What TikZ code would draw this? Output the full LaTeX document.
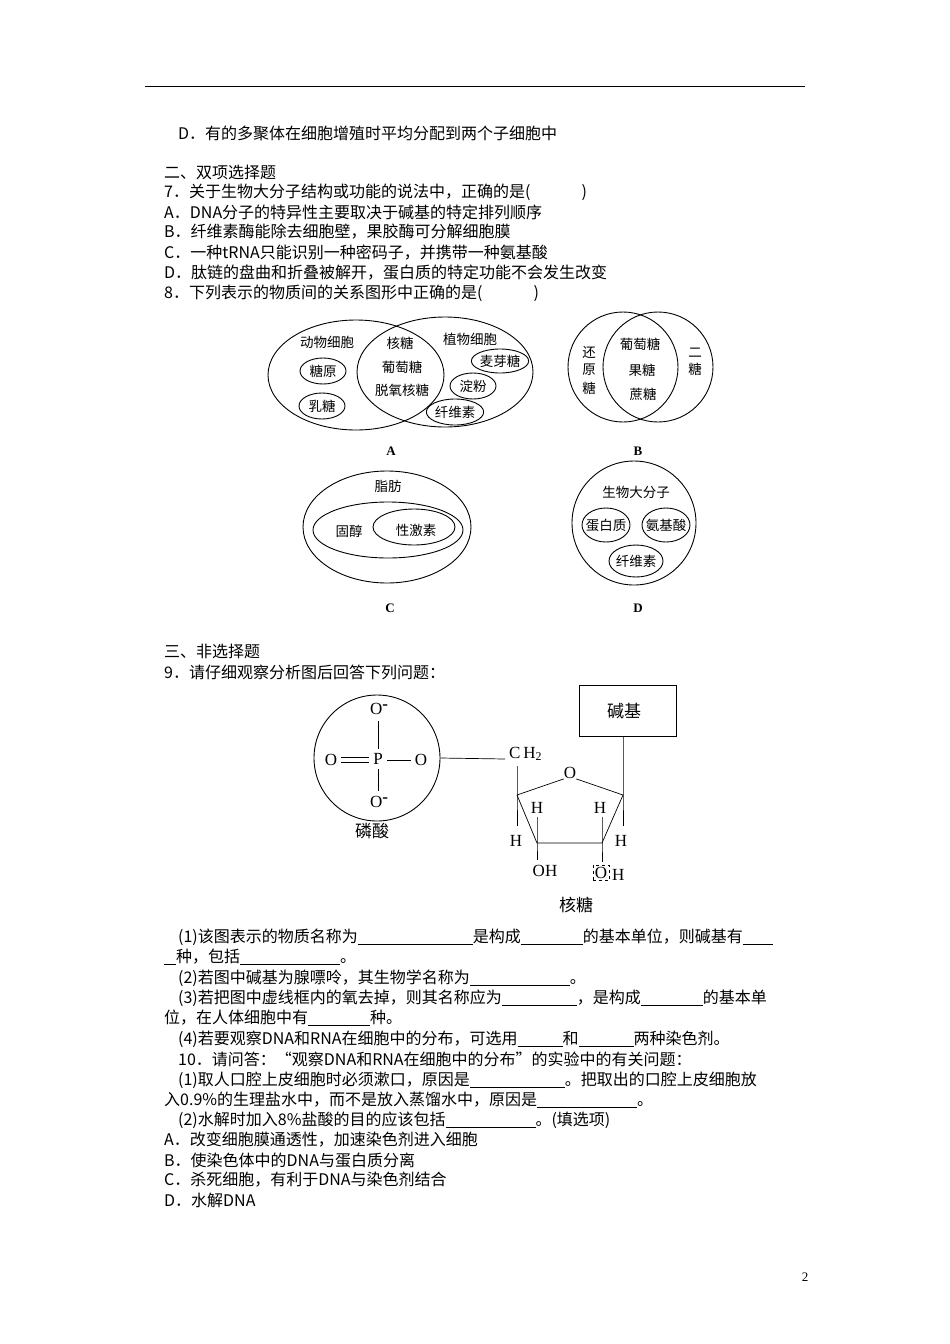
\documentclass[tikz,border=0pt]{standalone}
\usepackage{fontspec}
\usetikzlibrary{shapes.geometric}
\setmainfont{Liberation Serif}
\newfontfamily\cjk{Noto Sans CJK SC}
\newcommand\bl[1]{\rule[-2pt]{#1pt}{0.5pt}}
\begin{document}
\begin{tikzpicture}[x=1pt,y=-1pt,
  txt/.style={anchor=west,inner sep=0pt,font=\cjk\fontsize{16}{18}\selectfont},
  lab/.style={inner sep=0pt,font=\cjk\fontsize{13.5}{15}\selectfont},
  caplbl/.style={inner sep=0pt,font=\bfseries\fontsize{13}{15}\selectfont},
  atom/.style={inner sep=0pt,font=\fontsize{17}{19}\selectfont},
  ln/.style={line width=0.9pt},
  bnd/.style={line width=0.7pt}]
\useasboundingbox[fill=white] (0,0) rectangle (950,1344);
\draw[line width=0.8pt] (145,86) -- (805,86);
\node[txt] (t0) at (178,133) {D．有的多聚体在细胞增殖时平均分配到两个子细胞中};
\node[txt] (t1) at (164,172) {二、双项选择题};
\node[txt] (t2) at (164,192) {7．关于生物大分子结构或功能的说法中，正确的是(\hspace{3.2em})};
\node[txt] (t3) at (164,212) {A．DNA分子的特异性主要取决于碱基的特定排列顺序};
\node[txt] (t4) at (164,232) {B．纤维素酶能除去细胞壁，果胶酶可分解细胞膜};
\node[txt] (t5) at (164,253) {C．一种tRNA只能识别一种密码子，并携带一种氨基酸};
\node[txt] (t6) at (164,273) {D．肽链的盘曲和折叠被解开，蛋白质的特定功能不会发生改变};
\node[txt] (t7) at (164,293) {8．下列表示的物质间的关系图形中正确的是(\hspace{3.2em})};
% A
\draw[ln] (356,375) ellipse (88 and 55);
\draw[ln] (445,372) ellipse (88 and 55);
\node[lab] (a1) at (327,342) {动物细胞};
\node[lab,draw,ellipse,minimum width=46pt,minimum height=26pt,line width=0.9pt] (a2) at (323,371) {糖原};
\node[lab,draw,ellipse,minimum width=46pt,minimum height=26pt,line width=0.9pt] (a3) at (322,406) {乳糖};
\node[lab] (a4) at (400,343) {核糖};
\node[lab] (a5) at (402,367) {葡萄糖};
\node[lab] (a6) at (402,390) {脱氧核糖};
\node[lab] (a7) at (470,339) {植物细胞};
\node[lab,draw,ellipse,minimum width=52pt,minimum height=24pt,inner sep=0pt,line width=0.9pt] (a8) at (500,361) {麦芽糖};
\node[lab,draw,ellipse,minimum width=46pt,minimum height=26pt,line width=0.9pt] (a9) at (473,386) {淀粉};
\node[lab,draw,ellipse,minimum width=54pt,minimum height=26pt,line width=0.9pt] (a10) at (455,412) {纤维素};
\node[caplbl] (ca) at (391,451) {A};
% B
\draw[ln] (623,367) circle (55);
\draw[ln] (658,367) circle (55);
\node[lab] (b1) at (589,352) {还};
\node[lab] (b2) at (589,370) {原};
\node[lab] (b3) at (589,388) {糖};
\node[lab] (b4) at (640,344) {葡萄糖};
\node[lab] (b5) at (642,370) {果糖};
\node[lab] (b6) at (643,394) {蔗糖};
\node[lab] (b7) at (695,353) {二};
\node[lab] (b8) at (695,369) {糖};
\node[caplbl] (cb) at (638,451) {B};
% C
\draw[ln] (387,527) ellipse (84 and 56);
\draw[ln] (388,530) ellipse (75 and 28);
\draw[ln] (414,527) ellipse (41 and 18);
\node[lab] (c1) at (388,486) {脂肪};
\node[lab] (c2) at (349,531) {固醇};
\node[lab] (c3) at (416,530) {性激素};
\node[caplbl] (cc) at (390,608) {C};
% D
\draw[ln] (634,523) circle (62);
\node[lab] (d1) at (636,492) {生物大分子};
\draw[ln] (606,525) ellipse (24 and 17);
\node[lab] (d2) at (606,525) {蛋白质};
\draw[ln] (666,525) ellipse (24 and 17);
\node[lab] (d3) at (666,525) {氨基酸};
\draw[ln] (636,561) ellipse (27 and 16);
\node[lab] (d4) at (636,561) {纤维素};
\node[caplbl] (cd) at (638,608) {D};
\node[txt] (t8) at (164,651) {三、非选择题};
\node[txt] (t9) at (164,672) {9．请仔细观察分析图后回答下列问题：};
% molecule
\node[draw,circle,minimum size=126pt,line width=0.9pt] (pc) at (377,758) {};
\node[atom] (P) at (378,759) {P};
\node[atom] (Ol) at (331,760) {O};
\node[atom] (Or) at (421,760) {O};
\node[atom] (Ot) at (379,709) {O\raisebox{5pt}{\textbf{-}}};
\node[atom] (Ob) at (379,802) {O\raisebox{5pt}{\textbf{-}}};
\draw[bnd] (341,757) -- (369,757) (341,762) -- (369,762);
\draw[bnd] (387,760) -- (411,760);
\draw[bnd] (378,721) -- (378,749) (378,769) -- (378,791);
\node[lab,font=\cjk\fontsize{17}{19}\selectfont] (pl) at (372,831) {磷酸};
\node[atom,anchor=west] (ch) at (509,754) {C\,H\textsubscript{2}};
\draw[bnd] (pc.east) -- (505,759);
\coordinate (c4) at (517,795);
\coordinate (c1) at (623,795);
\coordinate (c2) at (602,843);
\coordinate (c3) at (537,843);
\node[atom] (Or2) at (570,773) {O};
\draw[bnd] (c4) -- (Or2.south west) (Or2.south east) -- (c1) -- (c2) -- (c3) -- (c4);
\draw[bnd] (517,766) -- (c4) -- (517,826);
\node[atom] (h4) at (516,841) {H};
\node[atom] (h3) at (537,808) {H};
\draw[bnd] (537,817) -- (c3) -- (537,860);
\node[atom] (oh3) at (545,871) {OH};
\node[atom] (h2) at (600,808) {H};
\draw[bnd] (602,817) -- (c2) -- (602,862);
\node[atom,draw,dashed,line width=0.7pt,inner sep=2pt] (o2) at (601,873) {O};
\node[atom,anchor=west] (h2b) at (612,875) {H};
\node[draw,line width=0.9pt,minimum width=97pt,minimum height=51pt] (base) at (628,711) {};
\node[lab,font=\cjk\fontsize{17}{19}\selectfont] (bt) at (624,711) {碱基};
\draw[bnd] (base.south -| c1) -- (c1) -- (623,826);
\node[atom] (h1) at (621,841) {H};
\node[lab,font=\cjk\fontsize{17}{19}\selectfont] (rl) at (576,905) {核糖};
% questions
\node[txt] (q1) at (178,937) {(1)该图表示的物质名称为\bl{115}是构成\bl{62}的基本单位，则碱基有\bl{30}};
\node[txt] (q2) at (164,957) {\bl{12}种，包括\bl{100}。};
\node[txt] (q3) at (178,978) {(2)若图中碱基为腺嘌呤，其生物学名称为\bl{100}。};
\node[txt] (q4) at (178,998) {(3)若把图中虚线框内的氧去掉，则其名称应为\bl{75}，是构成\bl{62}的基本单};
\node[txt] (q5) at (164,1018) {位，在人体细胞中有\bl{62}种。};
\node[txt] (q6) at (178,1039) {(4)若要观察DNA和RNA在细胞中的分布，可选用\bl{45}和\bl{55}两种染色剂。};
\node[txt] (q7) at (178,1059) {10．请问答：“观察DNA和RNA在细胞中的分布”的实验中的有关问题：};
\node[txt] (q8) at (178,1080) {(1)取人口腔上皮细胞时必须漱口，原因是\bl{95}。把取出的口腔上皮细胞放};
\node[txt] (q9) at (164,1100) {入0.9\%的生理盐水中，而不是放入蒸馏水中，原因是\bl{100}。};
\node[txt] (q10) at (178,1120) {(2)水解时加入8\%盐酸的目的应该包括\bl{90}。(填选项)};
\node[txt] (q11) at (164,1140) {A．改变细胞膜通透性，加速染色剂进入细胞};
\node[txt] (q12) at (164,1160) {B．使染色体中的DNA与蛋白质分离};
\node[txt] (q13) at (164,1180) {C．杀死细胞，有利于DNA与染色剂结合};
\node[txt] (q14) at (164,1200) {D．水解DNA};
\node[inner sep=0pt,font=\fontsize{13}{15}\selectfont] (pn) at (805,1277) {2};
\end{tikzpicture}
\end{document}
